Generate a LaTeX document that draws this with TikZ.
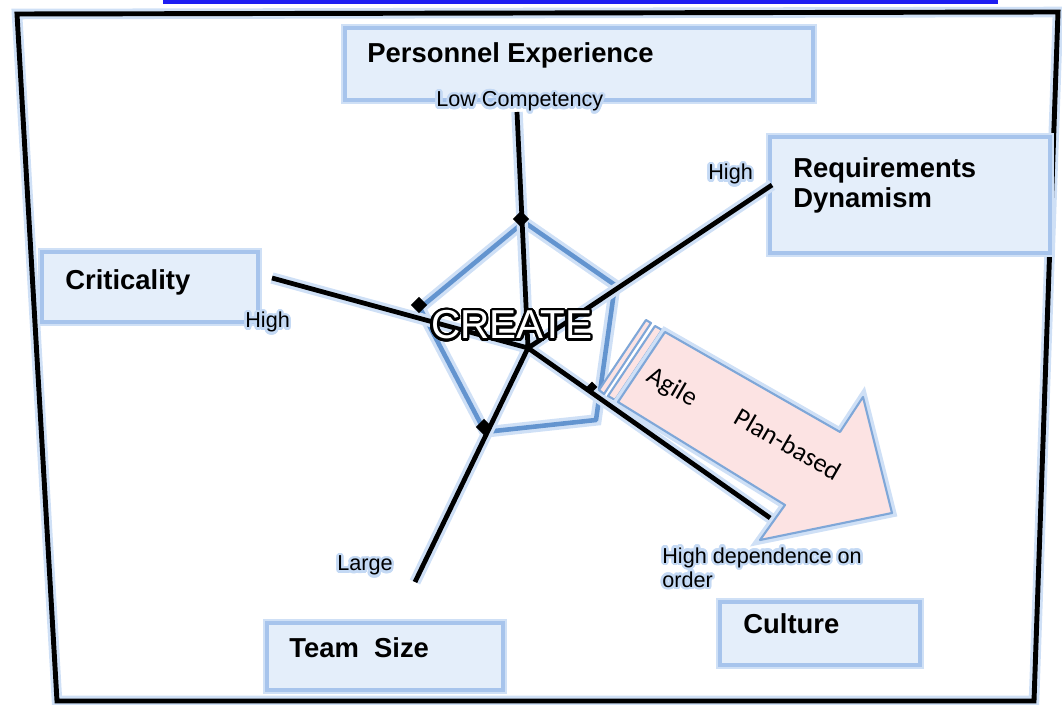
\documentclass[tikz,border=0pt]{standalone}
\usepackage{fontspec}
\setmainfont{Liberation Sans}
\newfontfamily\agilefont{Carlito}
\usepackage[copies]{contour}
\usepackage{tikz}
\contournumber{24}
\definecolor{boxfill}{HTML}{E4EEFA}
\definecolor{boxline}{HTML}{A7C4EC}
\definecolor{glowblue}{HTML}{CFE0F6}
\definecolor{haloblue}{HTML}{C4D9F4}
\definecolor{pentline}{HTML}{6394CF}
\definecolor{arrowfill}{HTML}{FCE3E3}
\definecolor{arrowline}{HTML}{7FA7D8}
\definecolor{topblue}{HTML}{1D1DF2}
\newcommand{\glowtext}[1]{{\contourlength{1.4pt}\contour{haloblue}{#1}}}

\begin{document}
\begin{tikzpicture}[x=0.02cm, y=0.02cm]
						\tikzstyle{every node}+=[inner sep=0pt]
						\tikzstyle{glowed}=[preaction={draw=glowblue, line width=6.5pt}]
						\tikzstyle{factor}=[draw=boxline, fill=boxfill, line width=1.8pt, preaction={draw=glowblue, line width=4.5pt}]
						\tikzstyle{facname}=[anchor=base west, font=\bfseries\fontsize{15.6}{17.5}\selectfont]
						\tikzstyle{endlabel}=[anchor=base west, font=\fontsize{12.3}{12}\selectfont]
						\tikzstyle{spoke}=[black, line width=2.7pt, glowed]
						\tikzstyle{pent}=[draw=pentline, line width=2.6pt, line join=round, glowed]
						\tikzstyle{knot}=[fill=black, minimum size=0.23cm, rotate=45]
						\tikzstyle{drift}=[draw=arrowline, fill=arrowfill, line width=1.2pt, line join=round]
						\useasboundingbox (0,0) rectangle (1062,-705);
						\fill [topblue] (163,0) rectangle (998,-4);
						\draw [black, line width=2.8pt, preaction={draw=glowblue, line width=6pt}] (17,-14) -- (1058,-12) -- (1034,-701) -- (57,-701) -- cycle;
						\draw [factor] (345,-28) rectangle (813,-100);
						\draw [factor] (770,-137) rectangle (1050,-253);
						\draw [factor] (42,-252) rectangle (258,-322);
						\draw [factor] (267,-623) rectangle (503,-690);
						\draw [factor] (720,-602) rectangle (920,-665);
						\coordinate (hub) at (528,-348);
						\coordinate (pe) at (517,-112);
						\coordinate (req) at (772,-185);
						\coordinate (crit) at (272,-278);
						\coordinate (team) at (415,-582);
						\coordinate (cul) at (773,-520);
						\coordinate (v1) at (524,-222);
						\coordinate (v2) at (615,-285);
						\coordinate (v3) at (596,-420);
						\coordinate (v4) at (485,-432);
						\coordinate (v5) at (420,-308);
						\draw [pent] (v1) -- (v2) -- (v3) -- (v4) -- (v5) -- cycle;
						\draw [spoke] (pe) -- (hub) -- (cul) (crit) -- (hub) (req) -- (hub) (team) -- (hub);
						\node (k1) [knot] at (521,-219) {};
						\node (k2) [knot] at (419,-305) {};
						\node (k3) [knot] at (484,-427) {};
						\node (k4) [knot, minimum size=0.15cm] at (592,-387) {};
						\draw [drift] (646,-320) -- (651,-323) -- (604,-394) -- (599,-390) -- cycle;
						\draw [drift] (655,-326) -- (662,-330) -- (615,-400) -- (608,-396) -- cycle;
						\draw [drift, preaction={draw=glowblue, line width=5pt}] (665,-332) -- (840,-432) -- (863,-397) -- (892,-513) -- (760,-540) -- (785,-505) -- (618,-402) -- cycle;
						\node (agile) [rotate=-30, font=\agilefont\fontsize{15}{18}\selectfont] at (672,-388) {Agile};
						\node (plan) [rotate=-30, font=\agilefont\fontsize{15}{18}\selectfont] at (788,-444) {Plan-based};
						\node (create) [anchor=base west, font=\fontsize{23}{26}\selectfont] at (431,-339) {\contourlength{1.4pt}\contour{black}{\textcolor{white}{CREATE}}};
						\node (pename) [facname] at (367,-63) {Personnel Experience};
						\node (reqname) [facname, anchor=north west, align=left] at (793,-157) {Requirements\\Dynamism};
						\node (critname) [facname] at (65,-290) {Criticality};
						\node (teamname) [facname] at (289,-658) {Team\ \ Size};
						\node (culname) [facname] at (743,-634) {Culture};
						\node (lowcomp) [endlabel] at (436,-107) {\glowtext{Low Competency}};
						\node (reqhigh) [endlabel] at (708,-180) {\glowtext{High}};
						\node (crithigh) [endlabel] at (245,-328) {\glowtext{High}};
						\node (large) [endlabel] at (337,-571) {\glowtext{Large}};
						\node (culhigh) [endlabel, anchor=north west, align=left] at (662,-547) {\glowtext{High dependence on}\\\glowtext{order}};
					\end{tikzpicture}
\end{document}
